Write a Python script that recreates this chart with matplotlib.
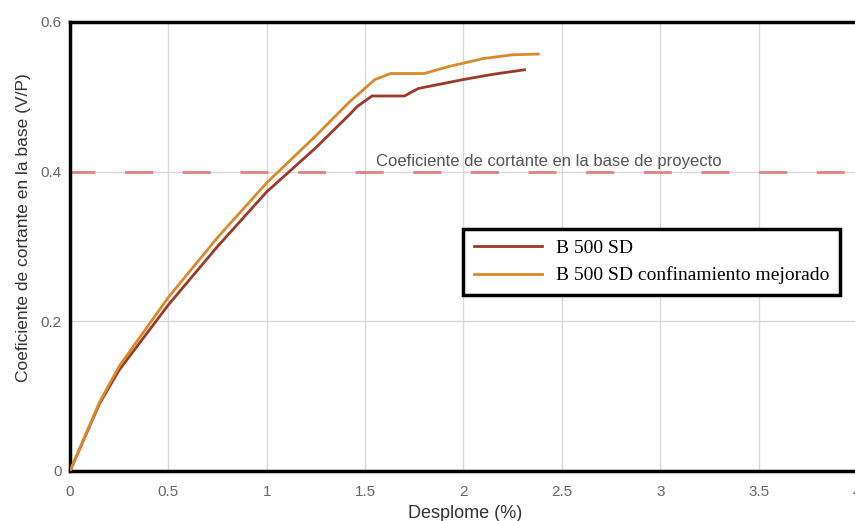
import matplotlib
matplotlib.use("Agg")
import matplotlib.pyplot as plt

# Pushover curves: drift (%) vs base shear coefficient (V/P)
drift_b500 = [0.0, 0.15, 0.25, 0.5, 0.75, 1.0, 1.25, 1.42, 1.46, 1.535, 1.70, 1.77, 2.0, 2.15, 2.31]
coef_b500 = [0.0, 0.09, 0.135, 0.222, 0.30, 0.373, 0.432, 0.476, 0.487, 0.501, 0.501, 0.511, 0.523, 0.530, 0.536]

drift_conf = [0.0, 0.15, 0.25, 0.5, 0.75, 1.0, 1.25, 1.42, 1.55, 1.63, 1.80, 1.92, 2.10, 2.25, 2.38]
coef_conf = [0.0, 0.092, 0.14, 0.232, 0.312, 0.385, 0.448, 0.493, 0.523, 0.531, 0.531, 0.540, 0.551, 0.556, 0.557]

design_coef = 0.4

x_ticks = [0, 0.5, 1, 1.5, 2, 2.5, 3, 3.5, 4]
x_tick_labels = ["0", "0.5", "1", "1.5", "2", "2.5", "3", "3.5", "4"]
y_ticks = [0, 0.2, 0.4, 0.6]
y_tick_labels = ["0", "0.2", "0.4", "0.6"]

sans = ["Liberation Sans", "DejaVu Sans"]
narrow = ["Liberation Sans Narrow", "Liberation Sans", "DejaVu Sans"]

fig = plt.figure(figsize=(8.55, 5.21), dpi=100)
ax = fig.add_axes([0.0819, 0.096, 0.9204, 0.862])

ax.set_xlim(0, 4)
ax.set_ylim(0, 0.6)
ax.set_xticks(x_ticks)
ax.set_xticklabels(x_tick_labels)
ax.set_yticks(y_ticks)
ax.set_yticklabels(y_tick_labels)
ax.tick_params(length=0, labelsize=11, labelcolor="#666666")
ax.tick_params(axis="x", pad=10)
ax.tick_params(axis="y", pad=6)
for lbl in ax.get_xticklabels() + ax.get_yticklabels():
    lbl.set_family(narrow)

ax.grid(True, color="#d9d9d9", linewidth=1)
ax.set_axisbelow(True)

for side in ["left", "bottom", "top"]:
    ax.spines[side].set_linewidth(2.5)
    ax.spines[side].set_color("black")
ax.spines["right"].set_visible(False)

ax.axhline(design_coef, color="#e77f7f", linewidth=2,
           linestyle=(1.1, (10.1, 10.65)), zorder=2)
ax.text(1.557, design_coef + 0.003, "Coeficiente de cortante en la base de proyecto",
        fontsize=12, color="#555555", va="bottom", ha="left", family=sans)

ax.plot(drift_b500, coef_b500, color="#9b3a2a", linewidth=2, label="B 500 SD", zorder=3)
ax.plot(drift_conf, coef_conf, color="#d98a2b", linewidth=2,
        label="B 500 SD confinamiento mejorado", zorder=3)

leg = ax.legend(loc="upper left", bbox_to_anchor=(0.487, 0.561), fancybox=False,
                framealpha=1, edgecolor="black",
                prop={"family": "Liberation Serif", "size": 14},
                handlelength=3.5, handletextpad=0.7, borderpad=0.56, labelspacing=0.48)
leg.get_frame().set_linewidth(2.5)

ax.set_xlabel("Desplome (%)", fontsize=13, color="#333333", family=sans)
ax.xaxis.set_label_coords(0.5025, -0.075)
ax.set_ylabel("Coeficiente de cortante en la base (V/P)", fontsize=12.5, color="#333333",
              family=sans)
ax.yaxis.set_label_coords(-0.05, 0.541)

fig.savefig("out.png", dpi=100)
